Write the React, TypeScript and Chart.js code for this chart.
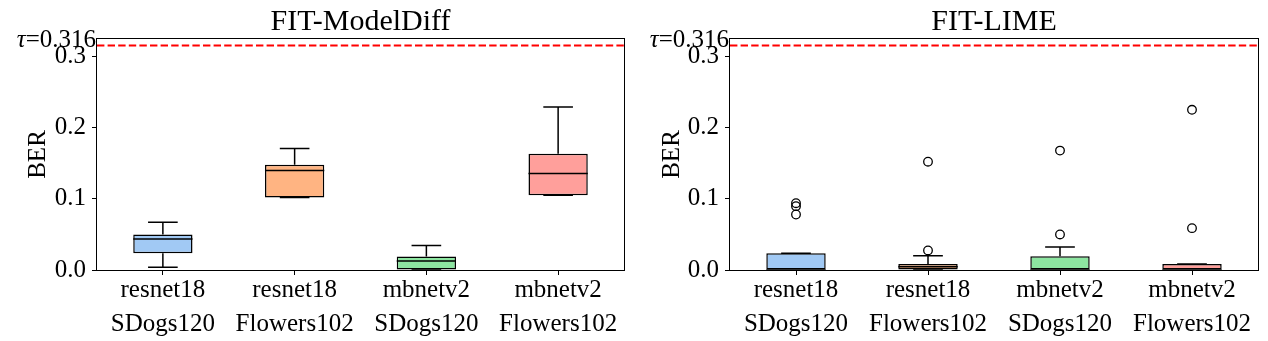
import React, { useEffect, useRef } from "react";
import { Chart, registerables } from "chart.js";

Chart.register(...registerables);

// ---------- data ----------
const categories = [
  "resnet18 SDogs120",
  "resnet18 Flowers102",
  "mbnetv2 SDogs120",
  "mbnetv2 Flowers102",
];
const boxColors = ["#a1c9f4", "#ffb482", "#8de5a1", "#ff9f9b"];
const yTicks = [0, 0.1, 0.2, 0.3];
const yMax = 0.325;
const tauValue = 0.316;
const tauText = "=0.316";

// FIT-ModelDiff
const mdWhiskerLow = [0.004, 0.102, 0.0, 0.105];
const mdQ1 = [0.0235, 0.102, 0.0, 0.105];
const mdMedian = [0.0435, 0.140, 0.0126, 0.1356];
const mdQ3 = [0.050, 0.148, 0.019, 0.1636];
const mdWhiskerHigh = [0.0673, 0.171, 0.0346, 0.2295];
const mdOutliers: number[][] = [[], [], [], []];

// FIT-LIME
const limeWhiskerLow = [0.0, 0.0, 0.0, 0.0];
const limeQ1 = [0.0, 0.0, 0.0, 0.0];
const limeMedian = [0.0, 0.0046, 0.0, 0.0];
const limeQ3 = [0.0235, 0.0085, 0.0192, 0.0085];
const limeWhiskerHigh = [0.0235, 0.020, 0.0323, 0.0085];
const limeOutliers: number[][] = [
  [0.094, 0.0898, 0.0781],
  [0.0276, 0.1524],
  [0.050, 0.168],
  [0.0589, 0.2254],
];

const FONT = "'Liberation Serif', 'Times New Roman', Times, serif";
const TICK_SIZE = 25;
const TITLE_SIZE = 30;

type Stats = {
  lo: number[];
  q1: number[];
  med: number[];
  q3: number[];
  hi: number[];
};

function makePlugin(stats: Stats, title: string) {
  return {
    id: "boxExtras",
    afterDatasetsDraw(chart: any) {
      const { ctx, chartArea } = chart;
      const ys = chart.scales.y;
      const meta = chart.getDatasetMeta(0);
      ctx.save();
      ctx.strokeStyle = "#000";
      ctx.lineWidth = 1.5;
      meta.data.forEach((bar: any, i: number) => {
        const cx = bar.x;
        const w = bar.width;
        const capW = w / 2;
        const pHi = ys.getPixelForValue(stats.hi[i]);
        const pQ3 = ys.getPixelForValue(stats.q3[i]);
        const pQ1 = ys.getPixelForValue(stats.q1[i]);
        const pLo = ys.getPixelForValue(stats.lo[i]);
        const pMed = ys.getPixelForValue(stats.med[i]);
        ctx.beginPath();
        ctx.moveTo(cx, pQ3);
        ctx.lineTo(cx, pHi);
        ctx.moveTo(cx - capW / 2, pHi);
        ctx.lineTo(cx + capW / 2, pHi);
        ctx.moveTo(cx, pQ1);
        ctx.lineTo(cx, pLo);
        ctx.moveTo(cx - capW / 2, pLo);
        ctx.lineTo(cx + capW / 2, pLo);
        ctx.moveTo(cx - w / 2, pMed);
        ctx.lineTo(cx + w / 2, pMed);
        ctx.stroke();
      });

      // tau line
      const pTau = ys.getPixelForValue(tauValue);
      ctx.strokeStyle = "#ff0000";
      ctx.lineWidth = 2;
      ctx.setLineDash([7.4, 3.2]);
      ctx.beginPath();
      ctx.moveTo(chartArea.left, pTau);
      ctx.lineTo(chartArea.right, pTau);
      ctx.stroke();
      ctx.setLineDash([]);

      // tau label
      ctx.fillStyle = "#000";
      ctx.textBaseline = "alphabetic";
      ctx.textAlign = "right";
      const xr = chartArea.left - 1;
      ctx.font = `${TICK_SIZE}px ${FONT}`;
      ctx.fillText(tauText, xr, pTau + 1.5);
      const wt = ctx.measureText(tauText).width;
      ctx.font = `italic ${TICK_SIZE}px ${FONT}`;
      ctx.fillText("τ", xr - wt, pTau + 1.5);

      // title centred over the plot area
      ctx.font = `${TITLE_SIZE}px ${FONT}`;
      ctx.textAlign = "center";
      ctx.fillText(title, (chartArea.left + chartArea.right) / 2, chartArea.top - 9.5);

      // frame
      ctx.strokeStyle = "#000";
      ctx.lineWidth = 1;
      ctx.strokeRect(
        Math.round(chartArea.left) - 0.5,
        Math.round(chartArea.top) - 0.5,
        Math.round(chartArea.right - chartArea.left) + 1,
        Math.round(chartArea.bottom - chartArea.top) + 1
      );
      ctx.restore();
    },
  };
}

function buildConfig(title: string, stats: Stats, outliers: number[][], yAxisWidth: number): any {
  const outlierPoints = outliers.flatMap((vals, i) =>
    vals.map((v) => ({ x: categories[i], y: v }))
  );
  const axisGrid = {
    display: true,
    drawOnChartArea: false,
    drawTicks: true,
    tickLength: 5,
    color: "#000",
    lineWidth: 1,
    offset: false,
  };
  return {
    type: "bar",
    data: {
      labels: categories,
      datasets: [
        {
          type: "bar",
          data: categories.map((_, i) => [stats.q1[i], stats.q3[i]]),
          backgroundColor: boxColors,
          borderColor: "#000",
          borderWidth: 1.5,
          borderSkipped: false,
          barPercentage: 0.45,
          categoryPercentage: 1,
          order: 2,
        },
        {
          type: "line",
          data: outlierPoints,
          showLine: false,
          pointRadius: 4.3,
          pointBackgroundColor: "rgba(255,255,255,0)",
          pointBorderColor: "#000",
          pointBorderWidth: 1.3,
          order: 1,
        },
      ],
    },
    options: {
      responsive: false,
      animation: false,
      devicePixelRatio: 1,
      events: [],
      layout: { padding: { left: 0, right: 10, top: 39, bottom: 0 } },
      plugins: {
        legend: { display: false },
        tooltip: { enabled: false },
        title: { display: false, text: title },
      },
      scales: {
        x: {
          type: "category",
          offset: true,
          grid: axisGrid,
          border: { display: false },
          ticks: {
            color: "#000",
            font: { family: FONT, size: TICK_SIZE, lineHeight: 1.38 },
            padding: -2,
            maxRotation: 0,
            minRotation: 0,
            autoSkip: false,
            callback: function (this: any, v: any) {
              return String(this.getLabelForValue(v)).split(" ");
            },
          },
          afterFit: (s: any) => {
            s.height = 71;
          },
        },
        y: {
          type: "linear",
          min: 0,
          max: yMax,
          grid: axisGrid,
          border: { display: false },
          afterBuildTicks: (s: any) => {
            s.ticks = yTicks.map((v) => ({ value: v }));
          },
          ticks: {
            color: "#000",
            font: { family: FONT, size: TICK_SIZE },
            padding: 6,
            callback: (v: any) => Number(v).toFixed(1),
          },
          title: {
            display: true,
            text: "BER",
            color: "#000",
            font: { family: FONT, size: TICK_SIZE },
            padding: { top: 23, bottom: 0 },
          },
          afterFit: (s: any) => {
            s.width = yAxisWidth;
          },
        },
      },
    },
    plugins: [makePlugin(stats, title)],
  };
}

function Panel(props: { title: string; stats: Stats; outliers: number[][]; yAxisWidth: number; left: number }) {
  const ref = useRef<HTMLCanvasElement | null>(null);
  useEffect(() => {
    if (!ref.current) return;
    const chart = new Chart(ref.current, buildConfig(props.title, props.stats, props.outliers, props.yAxisWidth));
    return () => chart.destroy();
  }, []);
  return (
    <canvas
      ref={ref}
      width={634}
      height={341}
      style={{ position: "absolute", left: props.left, top: 0, width: 634, height: 341 }}
    />
  );
}

export default function App() {
  const mdStats: Stats = { lo: mdWhiskerLow, q1: mdQ1, med: mdMedian, q3: mdQ3, hi: mdWhiskerHigh };
  const limeStats: Stats = { lo: limeWhiskerLow, q1: limeQ1, med: limeMedian, q3: limeQ3, hi: limeWhiskerHigh };
  return (
    <div style={{ position: "absolute", left: 0, top: 0, width: 1268, height: 341, background: "#fff" }}>
      <Panel title="FIT-ModelDiff" stats={mdStats} outliers={mdOutliers} yAxisWidth={97} left={0} />
      <Panel title="FIT-LIME" stats={limeStats} outliers={limeOutliers} yAxisWidth={96} left={634} />
    </div>
  );
}
